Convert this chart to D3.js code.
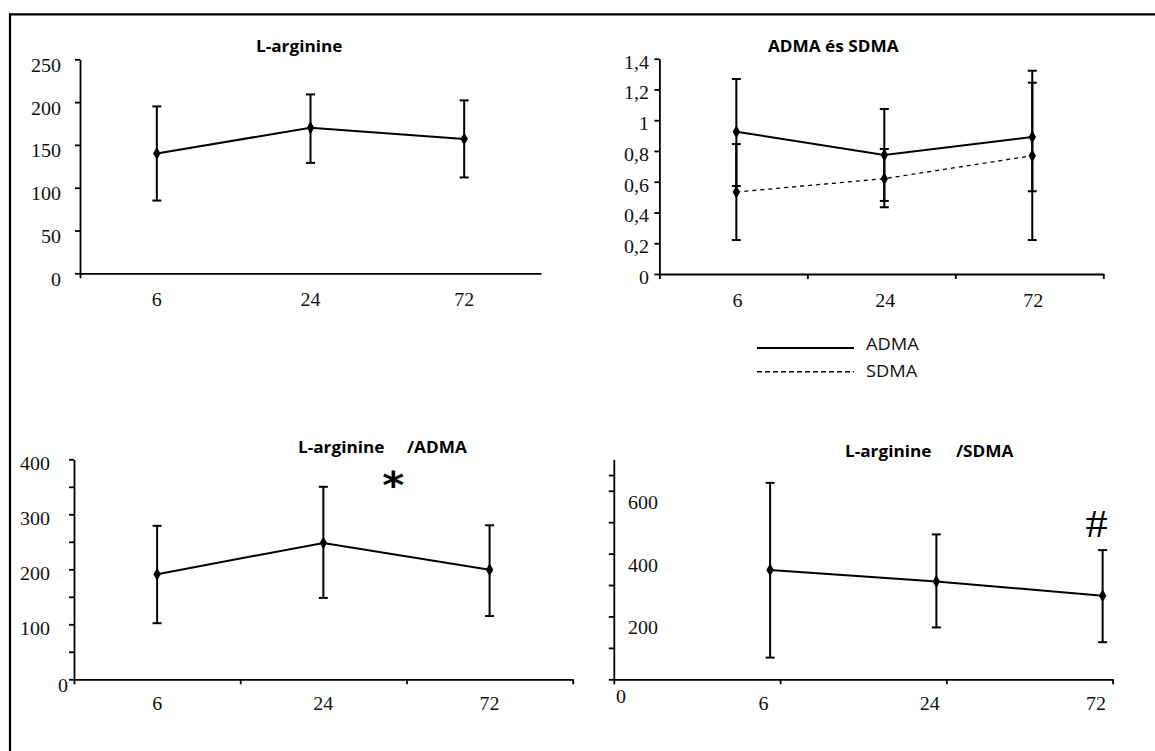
<!DOCTYPE html>
<html>
<head>
<meta charset="utf-8">
<script src="https://cdn.jsdelivr.net/npm/d3@7"></script>
<style>
  body { margin: 0; background: #fff; }
  svg { display: block; }
</style>
</head>
<body>
<svg id="chart" width="1155" height="751"></svg>
<script>
// hours after the event
var hours = ['6', '24', '72'];

// L-arginine
var argMean = [140, 170, 157];
var argUpper = [195, 209, 202];
var argLower = [85, 129, 112];

// ADMA and SDMA
var admaMean = [0.925, 0.774, 0.891];
var admaUpper = [1.268, 1.073, 1.244];
var admaLower = [0.572, 0.475, 0.538];
var sdmaMean = [0.533, 0.62, 0.769];
var sdmaUpper = [0.845, 0.813, 1.322];
var sdmaLower = [0.221, 0.434, 0.221];

// L-arginine / ADMA
var ratioAMean = [191, 248, 199];
var ratioAUpper = [279, 350, 280];
var ratioALower = [102, 148, 115];

// L-arginine / SDMA
var ratioSMean = [348, 311, 266];
var ratioSUpper = [625, 461, 411];
var ratioSLower = [69, 165, 118];

// tick values and labels
var argTicks = [0, 50, 100, 150, 200, 250];
var dmaTicks = [0, 0.2, 0.4, 0.6, 0.8, 1, 1.2, 1.4];
var ratioATicks = [0, 50, 100, 150, 200, 250, 300, 350, 400];
var ratioALabels = [100, 200, 300, 400];
var ratioSTicks = [0, 100, 200, 300, 400, 500, 600, 650];
var ratioSLabels = [200, 400, 600];

var legendNames = ['ADMA', 'SDMA'];

var S = 1.11; // the scanned figure is stretched sideways a bit
var serif = "'Liberation Serif', 'Times New Roman', serif";
var sans = "'Open Sans', 'Noto Sans', sans-serif";

var svg = d3.select('#chart');

function plain(v) { return String(v); }
function comma(v) { return String(+v.toFixed(1)).replace('.', ','); }

// put text at (dx,dy) relative to its parent and stretch it like the picture
function stretch(sel, dx, dy) {
	sel.attr('x', 0).attr('y', 0).attr('dy', null)
		.attr('transform', 'translate(' + dx + ',' + dy + ') scale(' + S + ',1)');
}

var panels = [
	{
		title: [['L-arginine', 256]], titleY: 51.5,
		x0: 80, x1: 541, yTop: 59.3, yBot: 273.3, max: 250,
		yTicks: argTicks, yLabels: argTicks, fmt: plain,
		yLabelDx: -19, yLabelDy: 12, yAnchor: 'end',
		xEdges: [0], xLabelDx: 0, xLabelDy: 32.7, frac: 0.5,
		series: [{ mean: argMean, upper: argUpper, lower: argLower, dash: null }]
	},
	{
		title: [['ADMA és SDMA', 768]], titleY: 52.3,
		x0: 659.4, x1: 1103.3, yTop: 58.7, yBot: 274, max: 1.4,
		yTicks: dmaTicks, yLabels: dmaTicks, fmt: comma,
		yLabelDx: -10.5, yLabelDy: 9.5, yAnchor: 'end',
		xEdges: [0, 1, 2, 3], xLabelDx: 4, xLabelDy: 32.7, frac: 0.52,
		series: [
			{ mean: admaMean, upper: admaUpper, lower: admaLower, dash: null },
			{ mean: sdmaMean, upper: sdmaUpper, lower: sdmaLower, dash: '4,4' }
		]
	},
	{
		title: [['L-arginine', 298], ['/ADMA', 407]], titleY: 453.3,
		x0: 74, x1: 572.7, yTop: 459.3, yBot: 679.3, max: 400,
		yTicks: ratioATicks, yLabels: ratioALabels, fmt: plain,
		yLabelDx: -24, yLabelDy: 10.5, yAnchor: 'end',
		zero: { dx: -11, dy: 12.7 },
		xEdges: [0, 1, 2, 3], xLabelDx: 0, xLabelDy: 30.7, frac: 0.5,
		mark: { text: '*', x: 393.3, y: 498, size: 38, weight: 'bold', font: "'DejaVu Sans', sans-serif" },
		series: [{ mean: ratioAMean, upper: ratioAUpper, lower: ratioALower, dash: null }]
	},
	{
		title: [['L-arginine', 845], ['/SDMA', 956]], titleY: 456.7,
		x0: 613.8, x1: 1112.6, yTop: 459.3, yBot: 679.3, max: 700,
		yTicks: ratioSTicks, yLabels: ratioSLabels, fmt: plain,
		yLabelDx: 14.2, yLabelDy: 17.5, yAnchor: 'start',
		zero: { dx: 7.2, dy: 23.7 },
		xEdges: [0, 1, 2, 3], xLabelDx: 66.5, xLabelDy: 30.7, frac: 0.94,
		mark: { text: '#', x: 1096.6, y: 536.5, size: 40, weight: 'normal', font: serif },
		series: [{ mean: ratioSMean, upper: ratioSUpper, lower: ratioSLower, dash: null }]
	}
];

// frame of the scanned figure (top and left edge only)
svg.append('line').attr('x1', 9).attr('x2', 1155).attr('y1', 14.3).attr('y2', 14.3)
	.attr('stroke', '#000').attr('stroke-width', 2.2);
svg.append('line').attr('x1', 10).attr('x2', 10).attr('y1', 13.2).attr('y2', 751)
	.attr('stroke', '#000').attr('stroke-width', 2.2);

panels.forEach(function(p) {
	var g = svg.append('g');

	var y = d3.scaleLinear().domain([0, p.max]).range([p.yBot, p.yTop]);
	var x = d3.scaleBand().domain(hours).range([p.x0, p.x1]);
	var edge = d3.scaleLinear().domain([0, hours.length]).range([p.x0, p.x1]);

	// y axis
	var yAxis = g.append('g')
		.attr('transform', 'translate(' + p.x0 + ',0)')
		.call(d3.axisLeft(y).tickValues(p.yTicks).tickSize(5).tickSizeOuter(0)
			.tickFormat(function(v) { return p.yLabels.indexOf(v) >= 0 ? p.fmt(v) : ''; }));
	yAxis.selectAll('path, line').attr('stroke-width', 1.8).attr('stroke', '#000');
	yAxis.selectAll('text')
		.attr('font-family', serif).attr('font-size', 18).attr('fill', '#111')
		.attr('text-anchor', p.yAnchor)
		.call(stretch, p.yLabelDx, p.yLabelDy);

	// x axis line with ticks at the category edges
	var xAxis = g.append('g')
		.attr('transform', 'translate(0,' + p.yBot + ')')
		.call(d3.axisBottom(edge).tickValues(p.xEdges).tickSize(5).tickSizeOuter(0).tickFormat(''));
	xAxis.selectAll('path, line').attr('stroke-width', 1.8).attr('stroke', '#000');

	// category labels
	var xLab = g.append('g')
		.attr('transform', 'translate(0,' + p.yBot + ')')
		.call(d3.axisBottom(x).tickSize(0));
	xLab.select('.domain').remove();
	xLab.selectAll('text')
		.attr('font-family', serif).attr('font-size', 18).attr('fill', '#111')
		.call(stretch, p.xLabelDx, p.xLabelDy);

	if (p.zero) {
		g.append('text').text('0')
			.attr('font-family', serif).attr('font-size', 18).attr('fill', '#111')
			.attr('text-anchor', 'middle')
			.attr('transform', 'translate(' + (p.x0 + p.zero.dx) + ',' + (p.yBot + p.zero.dy) + ') scale(' + S + ',1)');
	}

	// title
	p.title.forEach(function(t) {
		g.append('text').text(t[0])
			.attr('font-family', sans).attr('font-weight', 'bold').attr('font-size', 15.5)
			.attr('fill', '#000')
			.attr('transform', 'translate(' + t[1] + ',' + p.titleY + ') scale(' + S + ',1)');
	});

	if (p.mark) {
		g.append('text').text(p.mark.text)
			.attr('font-family', p.mark.font).attr('font-size', p.mark.size)
			.attr('font-weight', p.mark.weight)
			.attr('text-anchor', 'middle').attr('fill', '#000')
			.attr('transform', 'translate(' + p.mark.x + ',' + p.mark.y + ') scale(' + S + ',1)');
	}

	function px(i) { return x(hours[i]) + x.bandwidth() * p.frac; }

	p.series.forEach(function(s) {
		var idx = hours.map(function(h, i) { return i; });

		// error bars
		var bars = g.append('g').attr('stroke', '#000').attr('stroke-width', 2);
		bars.selectAll('.stem').data(idx).enter().append('line')
			.attr('x1', px).attr('x2', px)
			.attr('y1', function(i) { return y(s.upper[i]); })
			.attr('y2', function(i) { return y(s.lower[i]); });
		bars.selectAll('.capU').data(idx).enter().append('line')
			.attr('x1', function(i) { return px(i) - 4.5; })
			.attr('x2', function(i) { return px(i) + 4.5; })
			.attr('y1', function(i) { return y(s.upper[i]); })
			.attr('y2', function(i) { return y(s.upper[i]); });
		bars.selectAll('.capL').data(idx).enter().append('line')
			.attr('x1', function(i) { return px(i) - 4.5; })
			.attr('x2', function(i) { return px(i) + 4.5; })
			.attr('y1', function(i) { return y(s.lower[i]); })
			.attr('y2', function(i) { return y(s.lower[i]); });

		// mean line
		var line = d3.line()
			.x(function(i) { return px(i); })
			.y(function(i) { return y(s.mean[i]); });
		g.append('path').datum(idx)
			.attr('d', line)
			.attr('fill', 'none').attr('stroke', '#000')
			.attr('stroke-width', s.dash ? 1.3 : 2)
			.attr('stroke-dasharray', s.dash);

		// diamond markers
		g.selectAll(null).data(idx).enter().append('path')
			.attr('d', d3.symbol().type(d3.symbolDiamond).size(48))
			.attr('transform', function(i) { return 'translate(' + px(i) + ',' + y(s.mean[i]) + ')'; })
			.attr('fill', '#000');
	});
});

// legend for the ADMA / SDMA panel
var legend = svg.append('g').attr('transform', 'translate(757,348)');
legendNames.forEach(function(name, i) {
	legend.append('line')
		.attr('x1', 0).attr('x2', 97).attr('y1', i * 23.7).attr('y2', i * 23.7)
		.attr('stroke', '#000').attr('stroke-width', i ? 1.6 : 1.8)
		.attr('stroke-dasharray', i ? '5,3' : null);
	legend.append('text').text(name)
		.attr('font-family', sans).attr('font-size', 16.5).attr('fill', '#111')
		.attr('transform', 'translate(109,' + (i * 23.7 + 1.5 + i * 3.5) + ') scale(' + S + ',1)');
});
</script>
</body>
</html>
